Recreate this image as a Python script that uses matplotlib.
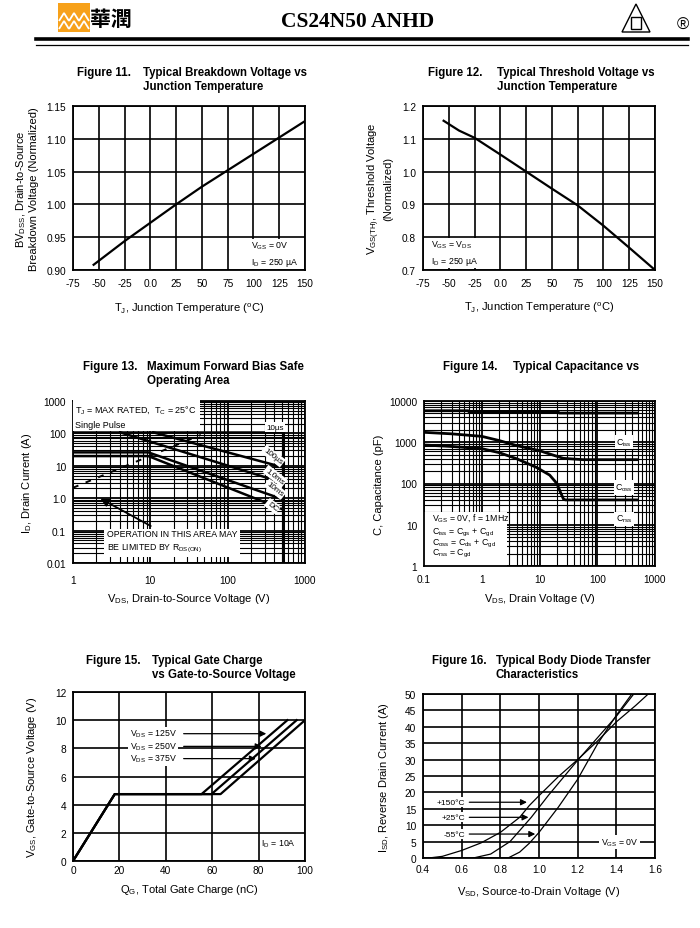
import numpy as np
import matplotlib.pyplot as plt
from matplotlib.lines import Line2D
from matplotlib.patches import Rectangle, Polygon
from matplotlib.ticker import NullFormatter

plt.rcParams['font.family'] = ['Liberation Sans', 'DejaVu Sans']
plt.rcParams['mathtext.fontset'] = 'custom'
plt.rcParams['mathtext.rm'] = 'Liberation Sans'
plt.rcParams['mathtext.it'] = 'Liberation Sans'
plt.rcParams['mathtext.default'] = 'regular'

# ---- data ----
# Fig 11: breakdown voltage vs Tj
bv_temp = [-55, -25, 0, 25, 50, 75, 100, 125, 150]
bv_norm = [0.908, 0.944, 0.972, 1.0, 1.027, 1.052, 1.077, 1.102, 1.127]

# Fig 12: threshold voltage vs Tj
vth_temp = [-55, -40, -25, 0, 25, 50, 75, 100, 125, 150]
vth_norm = [1.155, 1.125, 1.103, 1.052, 1.0, 0.948, 0.897, 0.835, 0.768, 0.70]

temp_ticks = [-75, -50, -25, 0, 25, 50, 75, 100, 125, 150]
temp_labels = ['-75', '-50', '-25', '0.0', '25', '50', '75', '100', '125', '150']

# Fig 13: safe operating area
soa_10us_v = [1, 520]
soa_10us_i = [108, 108]
soa_100us_v = [10.9, 520]
soa_100us_i = [108, 9.0]
soa_1ms_v = [4.06, 520]
soa_1ms_i = [108, 3.0]
soa_10ms_v = [1, 9.4, 520]
soa_10ms_i = [26, 26, 0.92]
soa_dc_v = [1, 9.4, 520]
soa_dc_i = [20, 20, 0.45]
soa_vmax_v = [520, 520]
soa_vmax_i = [0.01, 108]
rds_v = [1, 45]
rds_i = [2.1, 90]

# Fig 14: capacitance
c1_v = [0.1, 0.58, 0.6, 21, 22, 500]
c1_c = [5800, 5800, 5500, 5500, 5100, 5100]
c2_v = [0.1, 0.3, 1.0, 2.0, 4.0, 10, 15, 26, 57, 500]
c2_c = [1740, 1600, 1390, 1100, 830, 625, 519, 407, 378, 378]
c3_v = [0.1, 0.3, 1.0, 2.0, 4.0, 8.9, 15, 20, 23, 26, 28, 500]
c3_c = [858, 790, 700, 560, 400, 245, 160, 100, 62, 42, 40, 40]

# Fig 15: gate charge
qg_125 = [0, 18, 55.4, 92.4]
qg_250 = [0, 18, 59.7, 96.4]
qg_375 = [0, 18, 63.6, 100]
vgs_q = [0, 4.75, 4.75, 10]

# Fig 16: body diode
vsd_150 = [0.43, 0.5, 0.6, 0.7, 0.8, 0.9, 0.95, 1.0, 1.1, 1.2, 1.3, 1.4, 1.5, 1.565]
isd_150 = [0, 0.5, 2.3, 4.6, 7.8, 12.4, 16.0, 19.0, 24.8, 30.0, 35.5, 41.5, 46.5, 50]
vsd_25 = [0.66, 0.75, 0.85, 0.96, 1.05, 1.2, 1.3, 1.4, 1.49]
isd_25 = [0, 1.2, 5.0, 12.4, 19.2, 29.8, 36.5, 43.2, 50]
vsd_m55 = [0.84, 0.9, 0.95, 1.0, 1.1, 1.2, 1.3, 1.4, 1.48]
isd_m55 = [0, 1.8, 4.5, 7.8, 15.5, 24.0, 34.5, 43.5, 50]

W, H = 700, 929
fig = plt.figure(figsize=(7, 9.29), dpi=100)


def pax(l, t, r, b):
    return fig.add_axes([l / W, 1 - b / H, (r - l) / W, (b - t) / H])


def ptxt(x, y, s, **kw):
    fig.text(x / W, 1 - y / H, s, **kw)


def title(x1, x2, y, num, lines):
    ptxt(x1, y, num, fontsize=8.3, fontweight='bold', va='center')
    for k, ln in enumerate(lines):
        ptxt(x2, y + 14 * k, ln, fontsize=8.3, fontweight='bold', va='center')


def style(ax, xl, yl, xlc, ylc):
    ax.tick_params(which='both', length=0, labelsize=7.3)
    ax.tick_params(axis='x', pad=6)
    ax.tick_params(axis='y', pad=5)
    for s in ax.spines.values():
        s.set_linewidth(1.3)
    ax.set_xlabel(xl, fontsize=8)
    ax.set_ylabel(yl, fontsize=8, linespacing=1.1)
    ax.xaxis.set_label_coords(0.5, xlc)
    ax.yaxis.set_label_coords(ylc, 0.5)


wbox = dict(facecolor='white', edgecolor='none', pad=1)

# ---- header ----
fig.add_artist(Rectangle((58 / W, 1 - 33 / H), 32 / W, 29 / H, transform=fig.transFigure,
                         facecolor='#f7a11a', edgecolor='none'))
for cx in [64, 74, 84]:
    for dy in [0, 8]:
        fig.add_artist(Polygon([((cx - 5) / W, 1 - (22 + dy) / H), (cx / W, 1 - (14 + dy) / H),
                                ((cx + 5) / W, 1 - (22 + dy) / H)], closed=False, fill=False,
                               edgecolor='white', lw=1.3, transform=fig.transFigure))
ptxt(111, 19, '華潤', fontsize=15, fontweight='bold', family=['Noto Sans CJK TC'],
     ha='center', va='center')
ptxt(358, 22, 'CS24N50 ANHD', fontsize=15.5, fontweight='bold', family=['Liberation Serif'],
     ha='center', va='center')
fig.add_artist(Polygon([(622 / W, 1 - 33 / H), (636 / W, 1 - 5 / H), (650 / W, 1 - 33 / H)],
                       closed=True, fill=False, edgecolor='black', lw=1, transform=fig.transFigure))
fig.add_artist(Rectangle((631 / W, 1 - 30 / H), 10 / W, 12 / H, transform=fig.transFigure,
                         fill=False, edgecolor='black', lw=1))
ptxt(683, 25, '®', fontsize=12, ha='center', va='center')
fig.add_artist(Line2D([36 / W, 688 / W], [1 - 40 / H, 1 - 40 / H], color='black', lw=2.6,
                      transform=fig.transFigure))
fig.add_artist(Line2D([36 / W, 688 / W], [1 - 45.5 / H, 1 - 45.5 / H], color='black', lw=0.9,
                      transform=fig.transFigure))

# ---- Figure 11 ----
title(77, 143, 73, 'Figure 11.', ['Typical Breakdown Voltage vs', 'Junction Temperature'])
ax1 = pax(73, 107, 305, 271)
ax1.plot(bv_temp, bv_norm, color='black', lw=1.6)
ax1.set_xlim(-75, 150)
ax1.set_ylim(0.90, 1.15)
ax1.set_xticks(temp_ticks, temp_labels)
ax1.set_yticks([0.90, 0.95, 1.00, 1.05, 1.10, 1.15], ['0.90', '0.95', '1.00', '1.05', '1.10', '1.15'])
ax1.grid(True, color='black', lw=1.2)
ax1.text(98, 0.925, 'V$_{GS}$ = 0V\nI$_D$ = 250 µA', fontsize=6.3, va='center', bbox=wbox,
         linespacing=1.4)
style(ax1, 'T$_J$, Junction Temperature ($^o$C)',
      'BV$_{DSS}$, Drain-to-Source\nBreakdown Voltage (Normalized)', -0.189, -0.147)

# ---- Figure 12 ----
title(428, 497, 73, 'Figure 12.', ['Typical Threshold Voltage vs', 'Junction Temperature'])
ax2 = pax(423, 107, 655, 271)
ax2.plot(vth_temp, vth_norm, color='black', lw=1.6)
ax2.set_xlim(-75, 150)
ax2.set_ylim(0.7, 1.2)
ax2.set_xticks(temp_ticks, temp_labels)
ax2.set_yticks([0.7, 0.8, 0.9, 1.0, 1.1, 1.2], ['0.7', '0.8', '0.9', '1.0', '1.1', '1.2'])
ax2.grid(True, color='black', lw=1.2)
ax2.text(-67, 0.752, 'V$_{GS}$ = V$_{DS}$\nI$_D$ = 250 µA', fontsize=6.3, va='center',
         bbox=wbox, linespacing=1.4)
style(ax2, 'T$_J$, Junction Temperature ($^o$C)',
      'V$_{GS(TH)}$, Threshold Voltage\n(Normalized)', -0.183, -0.129)


def loggrid(ax):
    ax.grid(True, which='major', color='black', lw=1.3)
    ax.grid(True, which='minor', color='black', lw=0.8)
    ax.yaxis.set_minor_formatter(NullFormatter())
    ax.xaxis.set_minor_formatter(NullFormatter())


# ---- Figure 13 ----
title(83, 147, 367, 'Figure 13.', ['Maximum Forward Bias Safe', 'Operating Area'])
ax3 = pax(73, 402, 305, 564)
ax3.set_xscale('log')
ax3.set_yscale('log')
ax3.set_xlim(1, 1000)
ax3.set_ylim(0.01, 1000)
loggrid(ax3)
for v, i in [(soa_10us_v, soa_10us_i), (soa_100us_v, soa_100us_i), (soa_1ms_v, soa_1ms_i),
             (soa_10ms_v, soa_10ms_i), (soa_dc_v, soa_dc_i)]:
    ax3.plot(v, i, color='black', lw=1.8)
ax3.plot(soa_vmax_v, soa_vmax_i, color='black', lw=2.2)
ax3.plot(rds_v, rds_i, color='black', lw=1.4, ls=(0, (3, 4)))
ax3.annotate('', xy=(2.1, 1.07), xytext=(10.9, 0.126),
             arrowprops=dict(arrowstyle='-|>', color='black', lw=1.3, mutation_scale=12))
ax3.set_xticks([1, 10, 100, 1000], ['1', '10', '100', '1000'])
ax3.set_yticks([0.01, 0.1, 1, 10, 100, 1000], ['0.01', '0.1', '1.0', '10', '100', '1000'])
ax3.text(0.01, 0.985, 'T$_J$ = MAX RATED,  T$_C$ = 25°C\nSingle Pulse', transform=ax3.transAxes,
         fontsize=6.5, va='top', ha='left', linespacing=1.6,
         bbox=dict(facecolor='white', edgecolor='none', pad=2))
ax3.text(0.145, 0.13, 'OPERATION IN THIS AREA MAY\nBE LIMITED BY R$_{DS(ON)}$',
         transform=ax3.transAxes, fontsize=6.3, va='center', ha='left', linespacing=1.5,
         bbox=dict(facecolor='white', edgecolor='none', pad=2))
ax3.text(410, 155, '10µs', fontsize=5.8, ha='center', va='center', bbox=wbox)
for s, x, y in [('100µs', 387, 20), ('1.0ms', 410, 4.8), ('10ms', 410, 1.9), ('DC', 380, 0.57)]:
    ax3.text(x, y, s, fontsize=5.8, ha='center', va='center', rotation=-38, bbox=wbox)
style(ax3, 'V$_{DS}$, Drain-to-Source Voltage (V)', 'I$_D$, Drain Current (A)', -0.173, -0.168)
ax3.tick_params(axis='x', pad=9)

# ---- Figure 14 ----
title(443, 513, 367, 'Figure 14.', ['Typical Capacitance vs'])
ax4 = pax(424, 402, 655, 567)
ax4.set_xscale('log')
ax4.set_yscale('log')
ax4.set_xlim(0.1, 1000)
ax4.set_ylim(1, 10000)
loggrid(ax4)
ax4.plot(c1_v, c1_c, color='black', lw=2.0)
ax4.plot(c2_v, c2_c, color='black', lw=2.0)
ax4.plot(c3_v, c3_c, color='black', lw=2.0)
ax4.set_xticks([0.1, 1, 10, 100, 1000], ['0.1', '1', '10', '100', '1000'])
ax4.set_yticks([1, 10, 100, 1000, 10000], ['1', '10', '100', '1000', '10000'])
ax4.add_patch(Rectangle((0, 0), 0.36, 0.327, transform=ax4.transAxes, facecolor='white',
                        edgecolor='none', zorder=2.5))
cap_notes = ['V$_{GS}$ = 0V, f = 1MHz', 'C$_{iss}$ = C$_{gs}$ + C$_{gd}$',
             'C$_{oss}$ = C$_{ds}$ + C$_{gd}$', 'C$_{rss}$ = C$_{gd}$']
for s, yp in zip(cap_notes, [518.3, 533.3, 543.8, 554.3]):
    ax4.text(0.035, (567 - yp) / 165, s, transform=ax4.transAxes, fontsize=6.3,
             va='center', ha='left', zorder=3)
for s, y in [('C$_{iss}$', 1000), ('C$_{oss}$', 80), ('C$_{rss}$', 14)]:
    ax4.text(290, y, s, fontsize=6.3, ha='center', va='center', bbox=wbox)
style(ax4, 'V$_{DS}$, Drain Voltage (V)', 'C, Capacitance (pF)', -0.153, -0.173)

# ---- Figure 15 ----
title(86, 152, 661, 'Figure 15.', ['Typical Gate Charge', 'vs Gate-to-Source Voltage'])
ax5 = pax(73, 693, 305, 862)
for q in [qg_125, qg_250, qg_375]:
    ax5.plot(q, vgs_q, color='black', lw=1.6)
ax5.set_xlim(0, 100)
ax5.set_ylim(0, 12)
ax5.set_xticks([0, 20, 40, 60, 80, 100])
ax5.set_yticks([0, 2, 4, 6, 8, 10, 12])
ax5.grid(True, color='black', lw=1.2)
for lab, y, xe in [('V$_{DS}$ = 125V', 9.04, 84.5), ('V$_{DS}$ = 250V', 8.14, 82.5),
                   ('V$_{DS}$ = 375V', 7.27, 80.0)]:
    ax5.text(24.5, y, lab, fontsize=6.3, va='center', ha='left', bbox=wbox)
    ax5.annotate('', xy=(xe, y), xytext=(46.5, y),
                 arrowprops=dict(arrowstyle='-|>', color='black', lw=0.9, mutation_scale=9))
ax5.text(81, 1.3, 'I$_D$ = 10A', fontsize=6.3, va='center', ha='left', bbox=wbox)
style(ax5, 'Q$_G$, Total Gate Charge (nC)', 'V$_{GS}$, Gate-to-Source Voltage (V)', -0.126, -0.147)
ax5.tick_params(axis='x', pad=3)

# ---- Figure 16 ----
title(432, 496, 661, 'Figure 16.', ['Typical Body Diode Transfer', 'Characteristics'])
ax6 = pax(423, 695, 655, 859)
ax6.plot(vsd_150, isd_150, color='black', lw=0.9)
ax6.plot(vsd_25, isd_25, color='black', lw=0.9)
ax6.plot(vsd_m55, isd_m55, color='black', lw=0.9)
ax6.set_xlim(0.4, 1.6)
ax6.set_ylim(0, 50)
ax6.set_xticks([0.4, 0.6, 0.8, 1.0, 1.2, 1.4, 1.6])
ax6.set_yticks(range(0, 51, 5))
ax6.grid(True, color='black', lw=1.2)
for lab, y, xe in [('+150°C', 17.0, 0.952), ('+25°C', 12.4, 0.96), ('-55°C', 7.3, 0.995)]:
    ax6.text(0.62, y, lab, fontsize=6.0, va='center', ha='right', bbox=wbox)
    ax6.annotate('', xy=(xe, y), xytext=(0.625, y),
                 arrowprops=dict(arrowstyle='-|>', color='black', lw=0.9, mutation_scale=9))
ax6.text(1.32, 4.8, 'V$_{GS}$ = 0V', fontsize=6.3, va='center', ha='left', bbox=wbox)
style(ax6, 'V$_{SD}$, Source-to-Drain Voltage (V)', 'I$_{SD}$, Reverse Drain Current (A)',
      -0.157, -0.138)
ax6.tick_params(axis='x', pad=4)

fig.savefig('out.png', dpi=100)
